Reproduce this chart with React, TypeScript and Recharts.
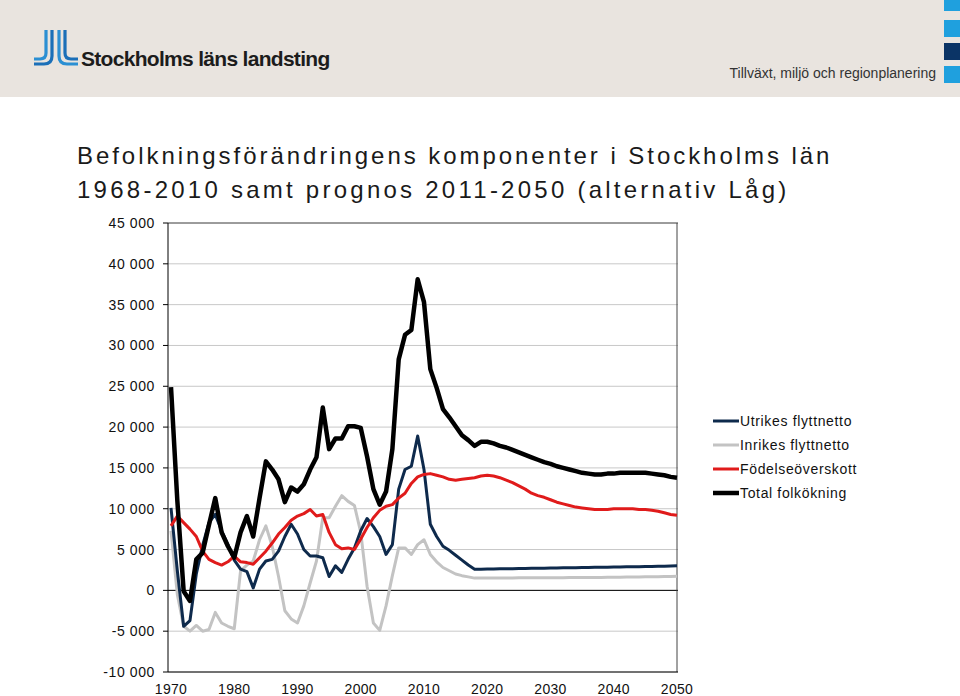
import React from "react";
import { LineChart, Line, XAxis, YAxis, CartesianGrid, ReferenceLine } from "recharts";

const years = [
  1970, 1971, 1972, 1973, 1974, 1975, 1976, 1977, 1978, 1979,
  1980, 1981, 1982, 1983, 1984, 1985, 1986, 1987, 1988, 1989,
  1990, 1991, 1992, 1993, 1994, 1995, 1996, 1997, 1998, 1999,
  2000, 2001, 2002, 2003, 2004, 2005, 2006, 2007, 2008, 2009,
  2010, 2011, 2012, 2013, 2014, 2015, 2016, 2017, 2018, 2019,
  2020, 2021, 2022, 2023, 2024, 2025, 2026, 2027, 2028, 2029,
  2030, 2031, 2032, 2033, 2034, 2035, 2036, 2037, 2038, 2039,
  2040, 2041, 2042, 2043, 2044, 2045, 2046, 2047, 2048, 2049,
  2050,
];

const utrikes = [
  10100, 2400, -4400, -3700, 2000, 5500, 8300, 9300, 7300, 5600,
  3700, 2600, 2300, 300, 2600, 3600, 3800, 4800, 6600, 8100,
  6900, 5000, 4200, 4200, 4000, 1700, 3000, 2200, 3800, 5200,
  7300, 8800, 7800, 6600, 4400, 5600, 12400, 14800, 15200, 18900,
  14800, 8100, 6600, 5400, 4900, 4300, 3700, 3100, 2600, 2600,
  2610, 2620, 2640, 2650, 2660, 2670, 2690, 2700, 2710, 2720,
  2730, 2750, 2760, 2770, 2780, 2790, 2800, 2820, 2830, 2840,
  2850, 2860, 2880, 2890, 2900, 2920, 2930, 2950, 2960, 2980,
  3000,
];

const inrikes = [
  7300, -500, -4400, -5000, -4300, -5000, -4800, -2700, -4000, -4400,
  -4700, 2400, 3100, 3600, 6200, 7900, 5400, 1700, -2500, -3500,
  -4000, -1900, 900, 3600, 8900, 8900, 10300, 11600, 10900, 10400,
  7100, 500, -4000, -4900, -1900, 1800, 5200, 5200, 4400, 5600,
  6200, 4400, 3500, 2800, 2400, 2000, 1800, 1650, 1500, 1500,
  1500, 1510, 1510, 1520, 1520, 1530, 1530, 1540, 1540, 1550,
  1550, 1560, 1560, 1570, 1570, 1580, 1580, 1590, 1590, 1600,
  1610, 1620, 1630, 1640, 1650, 1660, 1670, 1680, 1690, 1700,
  1720,
];

const fodelseoverskott = [
  7900, 9100, 8300, 7500, 6600, 4800, 3800, 3400, 3100, 3500,
  4200, 3500, 3400, 3200, 4000, 4800, 5800, 6900, 7700, 8600,
  9100, 9400, 9900, 9100, 9300, 7100, 5600, 5100, 5200, 5000,
  6300, 7700, 8900, 9800, 10300, 10500, 11300, 11900, 13100, 13900,
  14200, 14300, 14100, 13900, 13600, 13500, 13600, 13700, 13800, 14000,
  14100, 14000, 13800, 13500, 13200, 12800, 12400, 11900, 11600, 11400,
  11100, 10800, 10600, 10400, 10200, 10100, 10000, 9900, 9900, 9900,
  10000, 10000, 10000, 10000, 9900, 9900, 9800, 9700, 9500, 9300,
  9200,
];

const total = [
  24900, 11000, -100, -1300, 3800, 4600, 8000, 11300, 7100, 5400,
  4000, 7100, 9100, 6600, 11300, 15800, 14800, 13600, 10800, 12600,
  12100, 13000, 14800, 16300, 22400, 17300, 18600, 18600, 20100, 20100,
  19900, 16400, 12400, 10500, 12100, 17300, 28300, 31300, 31900, 38100,
  35300, 27100, 24800, 22200, 21200, 20100, 19000, 18400, 17700, 18200,
  18200, 18000, 17700, 17500, 17200, 16900, 16600, 16300, 16000, 15700,
  15500, 15200, 15000, 14800, 14600, 14400, 14300, 14200, 14200, 14300,
  14300, 14400, 14400, 14400, 14400, 14400, 14300, 14200, 14100, 13900,
  13800,
];

const yTicks = [-10000, -5000, 0, 5000, 10000, 15000, 20000, 25000, 30000, 35000, 40000, 45000];
const xTicks = [1970, 1980, 1990, 2000, 2010, 2020, 2030, 2040, 2050];

const seriesNames = ["Utrikes flyttnetto", "Inrikes flyttnetto", "Födelseöverskott", "Total folkökning"];
const seriesColors = ["#0e2a4c", "#c3c3c3", "#e01b1b", "#000000"];
const seriesWidths = [3, 3, 3, 4.5];

const data = years.map((y, i) => ({
  year: y,
  utrikes: utrikes[i],
  inrikes: inrikes[i],
  fodelse: fodelseoverskott[i],
  total: total[i],
}));

const FONT = "'Liberation Sans', Arial, Helvetica, sans-serif";

const fmt = (v: number) => {
  if (v === 0) return "0";
  const a = Math.abs(v);
  const th = Math.floor(a / 1000);
  const rest = String(a % 1000).padStart(3, "0");
  return (v < 0 ? "-" : "") + th + " " + rest;
};

function Logo() {
  return (
    <svg width={50} height={42} style={{ position: "absolute", left: 32, top: 28 }}>
      <path d="M14 2 V25 Q14 31 8 31 H2" stroke="#2b8fd3" strokeWidth={3.2} fill="none" />
      <path d="M20 2 V28 Q20 36 12 36 H2" stroke="#1b6fb8" strokeWidth={3.2} fill="none" />
      <path d="M27 2 V28 Q27 36 35 36 H46" stroke="#2b8fd3" strokeWidth={3.2} fill="none" />
      <path d="M33 2 V25 Q33 31 39 31 H46" stroke="#1b6fb8" strokeWidth={3.2} fill="none" />
    </svg>
  );
}

export default function App() {
  return (
    <div
      style={{
        position: "absolute",
        left: 0,
        top: 0,
        width: 960,
        height: 696,
        background: "#ffffff",
        overflow: "hidden",
        fontFamily: FONT,
      }}
    >
      <div style={{ position: "absolute", left: 0, top: 0, width: 960, height: 97, background: "#e9e4df" }} />
      <Logo />
      <div
        style={{
          position: "absolute",
          left: 81,
          top: 48,
          fontSize: 21,
          lineHeight: "22px",
          fontWeight: 700,
          letterSpacing: -0.7,
          color: "#1c1c1c",
          whiteSpace: "nowrap",
        }}
      >
        Stockholms läns landsting
      </div>
      <div
        style={{
          position: "absolute",
          right: 24,
          top: 65,
          fontSize: 14,
          lineHeight: "16px",
          color: "#333",
          whiteSpace: "nowrap",
        }}
      >
        Tillväxt, miljö och regionplanering
      </div>
      <div style={{ position: "absolute", left: 944, top: 0, width: 16, height: 11, background: "#1fa0de" }} />
      <div style={{ position: "absolute", left: 944, top: 20, width: 16, height: 17, background: "#1fa0de" }} />
      <div style={{ position: "absolute", left: 944, top: 43, width: 16, height: 17, background: "#0b3466" }} />
      <div style={{ position: "absolute", left: 944, top: 66, width: 16, height: 17, background: "#1fa0de" }} />

      <div
        style={{
          position: "absolute",
          left: 77,
          top: 139,
          fontSize: 24,
          lineHeight: "34px",
          color: "#1a1a1a",
          whiteSpace: "nowrap",
        }}
      >
        <div style={{ letterSpacing: 2.95 }}>Befolkningsförändringens komponenter i Stockholms län</div>
        <div style={{ letterSpacing: 3.25 }}>1968-2010 samt prognos 2011-2050 (alternativ Låg)</div>
      </div>

      <div style={{ position: "absolute", left: 0, top: 0 }}>
        <LineChart
          width={960}
          height={696}
          data={data}
          margin={{ top: 223, right: 282, bottom: 0, left: 108 }}
        >
          <CartesianGrid horizontal vertical={false} stroke="#c8c8c8" strokeWidth={1} />
          <XAxis
            dataKey="year"
            type="number"
            domain={[1970, 2050]}
            ticks={xTicks}
            padding={{ left: 3, right: 1 }}
            height={24}
            axisLine={{ stroke: "#000", strokeWidth: 1 }}
            tickLine={false}
            tickSize={0}
            tickMargin={12}
            interval={0}
            tick={{ fontSize: 14, fill: "#111", fontFamily: FONT, letterSpacing: 0.3 }}
          />
          <YAxis
            type="number"
            domain={[-10000, 45000]}
            ticks={yTicks}
            interval={0}
            width={60}
            axisLine={{ stroke: "#000", strokeWidth: 1 }}
            tickLine={{ stroke: "#000", strokeWidth: 1 }}
            tickSize={5}
            tickMargin={8}
            tickFormatter={fmt}
            tick={{ fontSize: 14, fill: "#111", fontFamily: FONT, letterSpacing: 0.6 }}
          />
          <ReferenceLine y={0} stroke="#000" strokeWidth={1} />
          <ReferenceLine y={45000} stroke="#555" strokeWidth={1} />
          <ReferenceLine x={2050} stroke="#444" strokeWidth={1} />
          <Line
            dataKey="inrikes"
            name={seriesNames[1]}
            stroke={seriesColors[1]}
            strokeWidth={seriesWidths[1]}
            dot={false}
            type="linear"
            strokeLinejoin="round"
            isAnimationActive={false}
          />
          <Line
            dataKey="utrikes"
            name={seriesNames[0]}
            stroke={seriesColors[0]}
            strokeWidth={seriesWidths[0]}
            dot={false}
            type="linear"
            strokeLinejoin="round"
            isAnimationActive={false}
          />
          <Line
            dataKey="fodelse"
            name={seriesNames[2]}
            stroke={seriesColors[2]}
            strokeWidth={seriesWidths[2]}
            dot={false}
            type="linear"
            strokeLinejoin="round"
            isAnimationActive={false}
          />
          <Line
            dataKey="total"
            name={seriesNames[3]}
            stroke={seriesColors[3]}
            strokeWidth={seriesWidths[3]}
            dot={false}
            type="linear"
            strokeLinejoin="round"
            isAnimationActive={false}
          />
        </LineChart>
      </div>

      <div style={{ position: "absolute", left: 712, top: 409 }}>
        {seriesNames.map((n, i) => (
          <div key={n} style={{ display: "flex", alignItems: "center", height: 24 }}>
            <svg width={28} height={10}>
              <line x1={1} y1={5} x2={27} y2={5} stroke={seriesColors[i]} strokeWidth={seriesWidths[i]} />
            </svg>
            <span style={{ fontSize: 14, letterSpacing: 0.65, color: "#111", whiteSpace: "nowrap" }}>{n}</span>
          </div>
        ))}
      </div>
    </div>
  );
}
